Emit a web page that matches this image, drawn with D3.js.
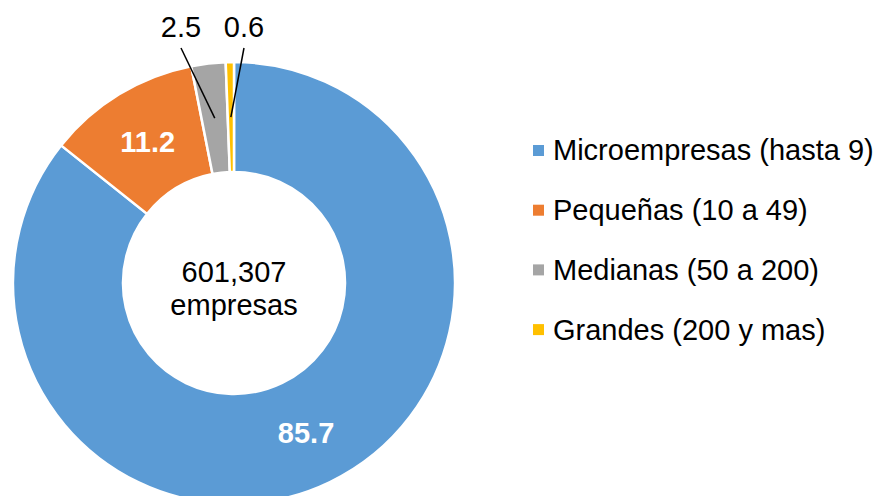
<!DOCTYPE html>
<html>
<head>
<meta charset="utf-8">
<script src="https://cdn.jsdelivr.net/npm/d3@7"></script>
<style>
  body { margin: 0; background: #fff; }
  svg { font-family: "Liberation Sans", Arial, sans-serif; }
</style>
</head>
<body>
<div id="chart"></div>
<script>
// data
var categories = ["Microempresas (hasta 9)", "Pequeñas (10 a 49)", "Medianas (50 a 200)", "Grandes (200 y mas)"];
var values = [85.7, 11.2, 2.5, 0.6];
var colors = ["#5B9BD5", "#ED7D31", "#A5A5A5", "#FFC000"];
var centerLines = ["601,307", "empresas"];

var width = 878, height = 496;
var cx = 234, cy = 283, outerR = 221, innerR = 111;
var fontSize = 29;

var svg = d3.select("#chart").append("svg")
    .attr("width", width)
    .attr("height", height);

var g = svg.append("g")
    .attr("transform", "translate(" + cx + "," + cy + ")");

var pie = d3.pie().sort(null).value(function(d) { return d; });
var arc = d3.arc().innerRadius(innerR).outerRadius(outerR);
var arcs = pie(values);

g.selectAll("path")
  .data(arcs)
  .enter().append("path")
    .attr("d", arc)
    .attr("fill", function(d, i) { return colors[i]; })
    .attr("stroke", "#fff")
    .attr("stroke-width", 2.5);

// labels inside for the big slices, outside with leader for the small ones
// (label anchor = baseline centre, relative to the donut centre)
var labelPos = [null, null, [-53, -246], [10, -246]];

arcs.forEach(function(d, i) {
  var c = arc.centroid(d);
  if (!labelPos[i]) {
    g.append("text")
      .attr("x", c[0]).attr("y", c[1])
      .attr("text-anchor", "middle")
      .attr("dy", "0.36em")
      .attr("fill", "#fff")
      .attr("font-weight", "bold")
      .attr("font-size", fontSize)
      .text(d3.format(".1f")(d.data));
  } else {
    var p = labelPos[i];
    g.append("line")
      .attr("x1", p[0]).attr("y1", p[1] + 11)
      .attr("x2", c[0]).attr("y2", c[1])
      .attr("stroke", "#000")
      .attr("stroke-width", 1.5);
    g.append("text")
      .attr("x", p[0]).attr("y", p[1])
      .attr("text-anchor", "middle")
      .attr("fill", "#000")
      .attr("font-size", fontSize)
      .text(d3.format(".1f")(d.data));
  }
});

// center text
g.selectAll(".center")
  .data(centerLines)
  .enter().append("text")
    .attr("class", "center")
    .attr("text-anchor", "middle")
    .attr("y", function(d, i) { return -1 + i * 33; })
    .attr("font-size", fontSize)
    .attr("fill", "#000")
    .text(function(d) { return d; });

// legend
var legend = svg.append("g").attr("transform", "translate(533,150)");
var item = legend.selectAll("g")
  .data(categories)
  .enter().append("g")
    .attr("transform", function(d, i) { return "translate(0," + (i * 59.7) + ")"; });

item.append("rect")
  .attr("x", 0).attr("y", -5)
  .attr("width", 11).attr("height", 11)
  .attr("fill", function(d, i) { return colors[i]; });

item.append("text")
  .attr("x", 20)
  .attr("dy", "0.36em")
  .attr("font-size", fontSize)
  .attr("fill", "#000")
  .text(function(d) { return d; });
</script>
</body>
</html>
